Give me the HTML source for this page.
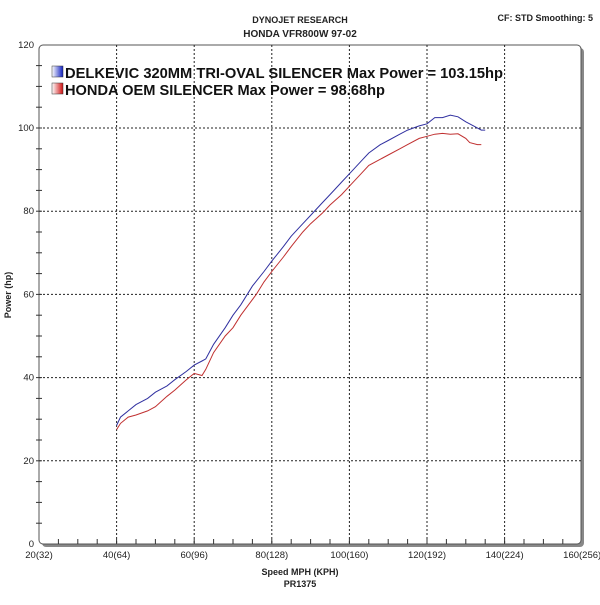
<!DOCTYPE html>
<html><head><style>
body{margin:0;background:#fff;width:600px;height:600px;overflow:hidden}
svg{font-family:"Liberation Sans",Arial,sans-serif}
</style></head><body>
<svg id="s" width="600" height="600" xmlns="http://www.w3.org/2000/svg">
<defs>
<linearGradient id="gb" x1="0" x2="1"><stop offset="0" stop-color="#fff"/><stop offset="1" stop-color="#1020c0"/></linearGradient>
<linearGradient id="gr" x1="0" x2="1"><stop offset="0" stop-color="#fff"/><stop offset="1" stop-color="#d01010"/></linearGradient>
</defs>
<rect x="42" y="48" width="542" height="499" rx="4" fill="#888"/>
<rect x="39" y="45" width="542" height="499" rx="4" fill="#fff" stroke="#555" stroke-width="1"/>
<g id="grid" stroke="#222" stroke-width="1" stroke-dasharray="2,2"></g>
<g id="ticks" stroke="#333" stroke-width="1"></g>
<g id="lab" font-size="9.5" fill="#222"></g>
<text x="300" y="23" font-size="9" font-weight="bold" text-anchor="middle" fill="#222">DYNOJET RESEARCH</text>
<text x="300" y="37" font-size="10" font-weight="bold" text-anchor="middle" fill="#222">HONDA VFR800W 97-02</text>
<text x="593" y="21" font-size="9" font-weight="bold" text-anchor="end" fill="#222">CF: STD  Smoothing: 5</text>
<text x="300" y="575" font-size="9" font-weight="bold" text-anchor="middle" fill="#222">Speed MPH (KPH)</text>
<text x="300" y="587" font-size="9" font-weight="bold" text-anchor="middle" fill="#222">PR1375</text>
<text transform="translate(11,295) rotate(-90)" font-size="9" font-weight="bold" text-anchor="middle" fill="#222">Power (hp)</text>
<rect x="52" y="66" width="11" height="11" fill="url(#gb)" stroke="#333" stroke-width="0.5"/>
<rect x="52" y="83" width="11" height="11" fill="url(#gr)" stroke="#333" stroke-width="0.5"/>
<text x="65" y="78" font-size="15" font-weight="bold" fill="#111" textLength="438" lengthAdjust="spacingAndGlyphs">DELKEVIC 320MM TRI-OVAL SILENCER  Max Power = 103.15hp</text>
<text x="65" y="95" font-size="15" font-weight="bold" fill="#111" textLength="320" lengthAdjust="spacingAndGlyphs">HONDA OEM SILENCER Max Power = 98.68hp</text>
<polyline id="red" fill="none" stroke="#c03030" stroke-width="1"/>
<polyline id="blue" fill="none" stroke="#3030a0" stroke-width="1"/>
</svg>
<script>
var X=m=>39+(m-20)*3.88, Y=h=>544-h*4.16;
var g=document.getElementById('grid'),t=document.getElementById('ticks'),l=document.getElementById('lab');
var ns='http://www.w3.org/2000/svg';
function el(p,n,a,txt){var e=document.createElementNS(ns,n);for(var k in a)e.setAttribute(k,a[k]);if(txt!==undefined)e.textContent=txt;p.appendChild(e);}
for(var m=40;m<=140;m+=20)el(g,'line',{x1:X(m),x2:X(m),y1:45,y2:544});
for(var h=20;h<=100;h+=20)el(g,'line',{x1:39,x2:582,y1:Y(h),y2:Y(h)});
for(var m=25;m<=155;m+=5)el(t,'line',{x1:X(m),x2:X(m),y1:539,y2:544});
for(var h=5;h<=115;h+=5)el(t,'line',{x1:36,x2:42,y1:Y(h),y2:Y(h)});
for(var m=20;m<=160;m+=20)el(l,'text',{x:X(m),y:558,'text-anchor':'middle'},m+'('+Math.round(m*1.6)+')');
for(var h=0;h<=120;h+=20)el(l,'text',{x:34,y:Y(h)+3,'text-anchor':'end'},String(h));
function pts(d){return d.map(p=>X(p[0]).toFixed(1)+','+Y(p[1]).toFixed(1)).join(' ');}
var B=[[40,28.5],[41,30.5],[43,32],[45,33.5],[48,35],[50,36.5],[53,38],[55,39.5],[58,41.5],[60,43],[62,44],[63,44.5],[65,48],[68,52],[70,55],[72,57.5],[75,62],[78,65.5],[80,68],[83,71.5],[85,74],[88,77],[90,79],[93,82],[95,84],[98,87],[100,89],[103,92],[105,94],[108,96],[110,97],[113,98.5],[115,99.5],[118,100.5],[120,101],[122,102.5],[124,102.5],[126,103.1],[128,102.7],[130,101.5],[132,100.5],[134,99.5],[135,99.5]];
var R=[[40,27.5],[41,29],[43,30.5],[45,31],[48,32],[50,33],[53,35.5],[55,37],[58,39.5],[60,41],[62,40.5],[63,42],[65,46],[68,50],[70,52],[72,55],[74,57.5],[76,60],[78,63],[80,65.5],[83,69],[85,71.5],[88,75],[90,77],[93,79.5],[95,81.5],[98,84],[100,86],[103,89],[105,91],[108,92.5],[110,93.5],[113,95],[115,96],[118,97.5],[120,98],[122,98.5],[124,98.7],[126,98.5],[128,98.6],[130,97.5],[131,96.5],[133,96],[134,96]];
document.getElementById('blue').setAttribute('points',pts(B));
document.getElementById('red').setAttribute('points',pts(R));
</script>
</body></html>
